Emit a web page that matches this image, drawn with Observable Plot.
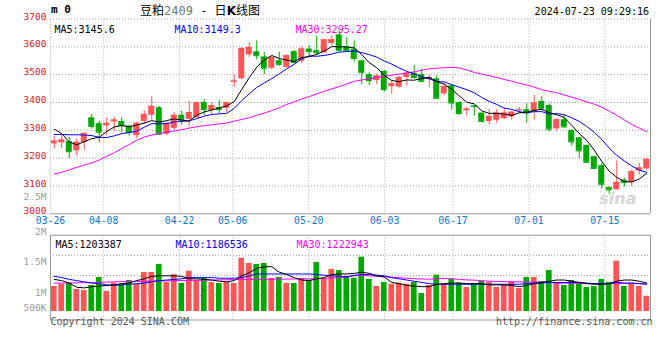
<!DOCTYPE html>
<html><head><meta charset="utf-8">
<script src="https://cdn.jsdelivr.net/npm/d3@7"></script>
<script src="https://cdn.jsdelivr.net/npm/@observablehq/plot@0.6"></script>
<style>
html,body{margin:0;padding:0;background:#fff;}
#wrap{position:relative;width:660px;height:360px;overflow:hidden;background:#fff;font-family:"DejaVu Sans Mono",monospace;}
#wrap svg{position:absolute;left:0;overflow:visible;}
.t{position:absolute;white-space:nowrap;}
</style></head><body>
<div id="wrap">
  <div class="t" style="left:51px;top:4px;font:bold 11px/12px 'DejaVu Sans Mono';">m 0</div>
  <div class="t" style="left:140px;top:3px;font:12px/13px 'Noto Sans CJK SC';">豆粕<span style="font-family:'DejaVu Sans Mono';color:#777">2409</span><span style="font-family:'DejaVu Sans Mono'"> - </span>日<b style="font-family:'DejaVu Sans'">K</b>线图</div>
  <div class="t" style="right:11px;top:6px;font:10px/12px 'DejaVu Sans Mono';">2024-07-23 09:29:16</div>
</div>
<script>
// ---- data ----
const open = [3251,3255,3260,3226,3256,3345,3324,3316,3330,3332,
3315,3281,3332,3354,3381,3286,3307,3354,3339,3345,
3400,3371,3382,3379,3473,3485,3571,3582,3564,3523,
3550,3526,3583,3548,3592,3586,3579,3612,3643,3600,
3592,3550,3500,3479,3512,3457,3455,3490,3505,3500,
3482,3485,3431,3460,3400,3370,3388,3362,3332,3336,
3342,3348,3372,3374,3365,3404,3389,3305,3338,3300,
3273,3246,3205,3173,3094,3086,3121,3113,3154,3161];
const high = [3279,3282,3274,3269,3290,3357,3333,3345,3348,3345,
3318,3329,3371,3421,3386,3329,3364,3369,3404,3402,
3411,3399,3407,3402,3499,3598,3614,3621,3580,3564,
3581,3571,3586,3600,3604,3639,3627,3639,3657,3633,
3621,3552,3507,3502,3514,3479,3493,3507,3533,3520,
3496,3496,3467,3464,3402,3383,3389,3362,3374,3374,
3381,3369,3381,3395,3425,3421,3395,3342,3354,3300,
3273,3246,3207,3181,3098,3190,3127,3157,3181,3196];
const low = [3233,3234,3199,3208,3229,3304,3255,3281,3296,3293,
3279,3269,3320,3336,3282,3280,3300,3318,3315,3342,
3354,3354,3360,3363,3455,3481,3562,3553,3500,3518,
3530,3523,3542,3540,3564,3568,3576,3604,3583,3583,
3546,3464,3461,3464,3437,3429,3452,3461,3483,3473,
3455,3412,3425,3374,3354,3351,3351,3326,3320,3324,
3338,3336,3360,3326,3338,3371,3294,3296,3308,3243,
3198,3181,3161,3089,3070,3086,3095,3098,3139,3157];
const close = [3261,3265,3223,3257,3289,3314,3293,3325,3337,3317,
3292,3325,3357,3386,3286,3323,3354,3336,3364,3400,
3375,3389,3374,3400,3477,3594,3598,3568,3523,3562,
3537,3568,3544,3592,3583,3579,3625,3625,3586,3586,
3558,3507,3479,3495,3446,3467,3490,3505,3490,3476,
3490,3415,3457,3398,3360,3376,3386,3332,3350,3362,
3362,3365,3374,3362,3398,3377,3304,3338,3312,3258,
3226,3185,3163,3106,3086,3113,3112,3151,3165,3196];
const ma5 = [3304,3288,3258,3248,3259,3270,3275,3296,3312,3317,
3313,3319,3326,3335,3329,3335,3341,3337,3333,3355,
3366,3373,3380,3388,3403,3447,3489,3527,3552,3569,
3558,3552,3547,3561,3565,3573,3585,3601,3600,3600,
3596,3572,3543,3525,3497,3479,3475,3481,3480,3486,
3490,3475,3466,3447,3424,3401,3395,3370,3361,3361,
3358,3354,3363,3365,3372,3375,3363,3356,3346,3318,
3288,3264,3229,3188,3153,3131,3116,3114,3125,3146];
const ma10 = [3285,3285,3284,3284,3283,3281,3275,3274,3280,3288,
3292,3297,3311,3324,3323,3324,3330,3332,3334,3342,
3351,3357,3359,3361,3379,3407,3431,3454,3470,3486,
3503,3521,3537,3557,3567,3566,3569,3574,3581,3583,
3585,3579,3572,3563,3549,3538,3524,3512,3503,3492,
3485,3475,3474,3464,3455,3446,3435,3418,3404,3393,
3380,3375,3367,3363,3367,3367,3359,3360,3356,3345,
3332,3314,3293,3267,3236,3210,3190,3172,3157,3149];
const ma30 = [3143,3149,3158,3167,3175,3183,3193,3207,3219,3235,
3249,3264,3276,3283,3288,3293,3298,3302,3308,3313,
3317,3320,3323,3326,3333,3339,3345,3354,3362,3371,
3381,3393,3402,3413,3421,3431,3440,3449,3457,3467,
3476,3481,3485,3490,3494,3498,3502,3506,3510,3516,
3521,3523,3525,3526,3524,3517,3508,3502,3496,3490,
3483,3476,3469,3463,3455,3446,3440,3435,3427,3419,
3411,3402,3394,3383,3369,3354,3338,3321,3308,3295];
const volume = [1153000,1191000,1208000,1104000,1087000,1170000,1302000,1071000,1208000,1191000,
1252000,1191000,1384000,1384000,1516000,1219000,1346000,1203000,1406000,1252000,
1291000,1219000,1203000,1219000,1203000,1620000,1533000,1516000,1533000,1285000,
1302000,1203000,1203000,1285000,1258000,1549000,1269000,1434000,1417000,1318000,
1290000,1637000,1269000,1153000,1219000,1191000,1208000,1191000,1219000,1038000,
1170000,1340000,1191000,1269000,1208000,1137000,1203000,1236000,1219000,1137000,
1170000,1225000,1120000,1302000,1302000,1236000,1417000,1219000,1170000,1252000,
1219000,1137000,1153000,1269000,1219000,1571000,1153000,1208000,1153000,988000];
const volMa5 = [1.27e6,1.25e6,1.21e6,1.14e6,1.13e6,1.15e6,1.16e6,1.17e6,1.18e6,1.2e6,
1.21e6,1.25e6,1.28e6,1.32e6,1.33e6,1.33e6,1.33e6,1.32e6,1.28e6,1.28e6,
1.27e6,1.26e6,1.24e6,1.23e6,1.25e6,1.33e6,1.38e6,1.45e6,1.48e6,1.48e6,
1.39e6,1.35e6,1.3e6,1.26e6,1.25e6,1.28e6,1.3e6,1.35e6,1.36e6,1.36e6,
1.37e6,1.39e6,1.37e6,1.33e6,1.31e6,1.22e6,1.2e6,1.17e6,1.16e6,1.15e6,
1.15e6,1.19e6,1.2e6,1.21e6,1.21e6,1.2e6,1.2e6,1.2e6,1.18e6,1.18e6,
1.18e6,1.17e6,1.15e6,1.17e6,1.2e6,1.22e6,1.24e6,1.26e6,1.26e6,1.24e6,
1.22e6,1.2e6,1.19e6,1.19e6,1.2e6,1.24e6,1.26e6,1.26e6,1.24e6,1.21e6];
const volMa10 = [1.32e6,1.3e6,1.27e6,1.25e6,1.23e6,1.21e6,1.2e6,1.18e6,1.17e6,1.18e6,
1.19e6,1.2e6,1.21e6,1.23e6,1.25e6,1.26e6,1.27e6,1.28e6,1.3e6,1.3e6,
1.3e6,1.3e6,1.29e6,1.29e6,1.29e6,1.3e6,1.33e6,1.36e6,1.36e6,1.36e6,
1.36e6,1.36e6,1.36e6,1.36e6,1.36e6,1.35e6,1.34e6,1.33e6,1.32e6,1.31e6,
1.34e6,1.35e6,1.35e6,1.34e6,1.33e6,1.3e6,1.28e6,1.26e6,1.24e6,1.22e6,
1.2e6,1.19e6,1.19e6,1.19e6,1.19e6,1.19e6,1.19e6,1.19e6,1.19e6,1.19e6,
1.19e6,1.19e6,1.19e6,1.2e6,1.21e6,1.21e6,1.22e6,1.22e6,1.22e6,1.22e6,
1.22e6,1.21e6,1.2e6,1.2e6,1.2e6,1.22e6,1.21e6,1.21e6,1.2e6,1.19e6];
const volMa30 = [1.208e6,1.21e6,1.212e6,1.214e6,1.216e6,1.218e6,1.222e6,1.226e6,1.23e6,1.233e6,
1.236e6,1.238e6,1.24e6,1.242e6,1.244e6,1.246e6,1.25e6,1.252e6,1.254e6,1.256e6,
1.258e6,1.26e6,1.262e6,1.265e6,1.268e6,1.27e6,1.27e6,1.272e6,1.272e6,1.274e6,
1.274e6,1.276e6,1.277e6,1.279e6,1.28e6,1.283e6,1.287e6,1.292e6,1.298e6,1.31e6,
1.33e6,1.335e6,1.33e6,1.32e6,1.315e6,1.305e6,1.298e6,1.29e6,1.282e6,1.276e6,
1.274e6,1.28e6,1.285e6,1.282e6,1.27e6,1.262e6,1.258e6,1.25e6,1.24e6,1.236e6,
1.234e6,1.232e6,1.23e6,1.228e6,1.226e6,1.224e6,1.22e6,1.21e6,1.208e6,1.206e6,
1.205e6,1.203e6,1.2e6,1.2e6,1.2e6,1.202e6,1.205e6,1.203e6,1.2e6,1.198e6];

const tickIdx = [0,7,17,24,34,44,53,63,73];
const tickLabels = ["03-26","04-08","04-22","05-06","05-20","06-03","06-17","07-01","07-15"];
const priceTicks = [3000,3100,3200,3300,3400,3500,3600,3700];
const volTickVals = [2000000,1500000,1000000];
const volTickLabels = ["2M","1.5M","1M"];
const volGrid = [1000000,1333333,1666667];
const volFloor = 740000;
const priceLegend = ["MA5:3145.6","MA10:3149.3","MA30:3295.27"];
const volLegend = ["MA5:1203387","MA10:1186536","MA30:1222943"];

// ---- drawing ----
const N = open.length;
const idx = d3.range(N);
const UP = "#ff5555", DOWN = "#00a800";
const col = i => close[i] >= open[i] ? UP : DOWN;
const gridX = i => i * N / (N - 1) - 0.5;   // Sina spaces date grid over N-1 intervals
const GRID = "#a8a8a8", BORDER = "#999";
const MA_COL = ["#000000", "#0000ff", "#ff00ff"];
const legendDx = [4, 124, 245];
const baseStyle = {fontFamily: "'DejaVu Sans Mono', monospace", fontSize: "10px", background: "transparent", overflow: "visible"};

const price = Plot.plot({
  width: 660, height: 235,
  marginLeft: 50, marginRight: 10, marginTop: 18.5, marginBottom: 21.7,
  x: {domain: [-0.5, N - 0.5], axis: null},
  y: {domain: [3000, 3700], axis: null},
  color: {type: "identity"},
  style: baseStyle,
  marks: [
    Plot.ruleY(priceTicks.filter(v => v > 3000), {stroke: GRID, strokeDasharray: "1,2"}),
    Plot.ruleX(tickIdx, {x: gridX, stroke: GRID, strokeDasharray: "1,2"}),
    Plot.ruleY([3000], {stroke: BORDER}),
    Plot.ruleX([N - 0.5], {stroke: BORDER}),
    Plot.text(priceTicks, {frameAnchor: "left", y: d => d, text: d => String(d), textAnchor: "end", dx: -4, dy: -2.5, fontSize: 9.5, fill: "#e02020"}),
    Plot.text(tickIdx, {x: gridX, text: (d, i) => tickLabels[i], frameAnchor: "bottom", dy: 10.5, fontSize: 9.8, fill: "#0a78d2"}),
    Plot.text(["2.5M"], {frameAnchor: "bottom-left", text: d => d, dx: -4, dy: -14, fontSize: 9.5, textAnchor: "end", fill: "#999"}),
    Plot.text(["sina"], {frameAnchor: "bottom-right", text: d => d, dx: -14, dy: -10, fontSize: 16, fontWeight: "bold", fontStyle: "italic", fontFamily: "DejaVu Sans", fill: "#d6d6d6"}),
    Plot.ruleX(idx, {x: i => i, y1: i => low[i], y2: i => high[i], stroke: col}),
    Plot.rect(idx, {x1: i => i - 0.4, x2: i => i + 0.4, y1: i => open[i], y2: i => close[i], fill: col}),
    Plot.ruleY(idx, {y: i => close[i], x1: i => i - 0.4, x2: i => i + 0.4, stroke: col}),
    Plot.line(idx, {x: i => i, y: i => ma30[i], stroke: MA_COL[2], strokeWidth: 1}),
    Plot.line(idx, {x: i => i, y: i => ma10[i], stroke: MA_COL[1], strokeWidth: 1}),
    Plot.line(idx, {x: i => i, y: i => ma5[i], stroke: MA_COL[0], strokeWidth: 1}),
    ...priceLegend.map((s, k) => Plot.text([s], {frameAnchor: "top-left", text: d => d, dx: legendDx[k], dy: 6.5, textAnchor: "start", fill: MA_COL[k]}))
  ]
});
price.style.top = "0px";

const vol = Plot.plot({
  width: 660, height: 118,
  marginLeft: 50, marginRight: 10, marginTop: 12.7, marginBottom: 20.5,
  x: {domain: [-0.5, N - 0.5], axis: null},
  y: {domain: [600000, 2000000], axis: null},
  color: {type: "identity"},
  style: baseStyle,
  marks: [
    Plot.ruleY(volGrid, {stroke: GRID, strokeDasharray: "1,2"}),
    Plot.ruleX(tickIdx.slice(1), {x: gridX, stroke: GRID, strokeDasharray: "1,2"}),
    Plot.rect(idx, {x1: i => i - 0.38, x2: i => i + 0.38, y1: volFloor, y2: i => volume[i], fill: col}),
    Plot.line(idx, {x: i => i, y: i => volMa30[i], stroke: MA_COL[2], strokeWidth: 1}),
    Plot.line(idx, {x: i => i, y: i => volMa10[i], stroke: MA_COL[1], strokeWidth: 1}),
    Plot.line(idx, {x: i => i, y: i => volMa5[i], stroke: MA_COL[0], strokeWidth: 1}),
    Plot.frame({stroke: BORDER}),
    Plot.text(volTickVals, {frameAnchor: "left", y: d => d, text: (d, i) => volTickLabels[i], textAnchor: "end", lineAnchor: "bottom", dx: -4, fontSize: 9.5, fill: "#999"}),
    Plot.text(["500K"], {frameAnchor: "bottom-left", text: d => d, dx: -4, dy: -9, fontSize: 9.5, textAnchor: "end", fill: "#999"}),
    ...volLegend.map((s, k) => Plot.text([s], {frameAnchor: "top-left", text: d => d, dx: legendDx[k] + 1, dy: 5.5, textAnchor: "start", fill: MA_COL[k]})),
    Plot.text(["Copyright 2024 SINA.COM"], {frameAnchor: "bottom-left", text: d => d, dy: 4.8, textAnchor: "start", fill: "#555"}),
    Plot.text(["http://finance.sina.com.cn"], {frameAnchor: "bottom-right", text: d => d, dx: 2, dy: 4.8, textAnchor: "end", fill: "#555"})
  ]
});
vol.style.top = "222px";

const wrap = document.getElementById("wrap");
wrap.appendChild(price);
wrap.appendChild(vol);
</script>
</body></html>
